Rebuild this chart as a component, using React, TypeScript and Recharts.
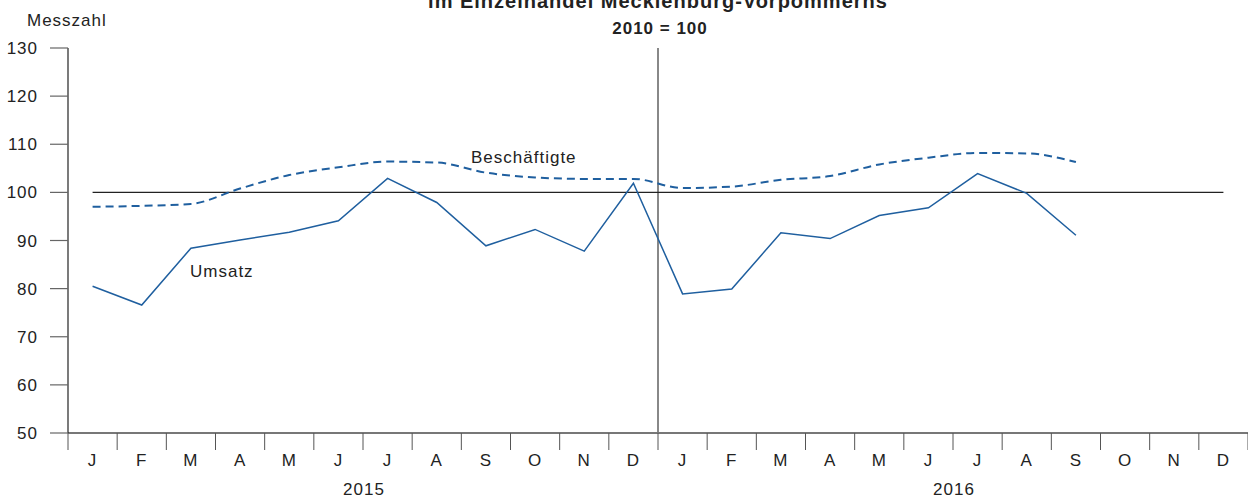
import { LineChart, Line, XAxis, YAxis, ReferenceLine } from 'recharts'

const monate = ['J', 'F', 'M', 'A', 'M', 'J', 'J', 'A', 'S', 'O', 'N', 'D', 'J', 'F', 'M', 'A', 'M', 'J', 'J', 'A', 'S', 'O', 'N', 'D']
const jahre = [2015, 2015, 2015, 2015, 2015, 2015, 2015, 2015, 2015, 2015, 2015, 2015, 2016, 2016, 2016, 2016, 2016, 2016, 2016, 2016, 2016, 2016, 2016, 2016]
const umsatz = [80.5, 76.6, 88.4, 90.1, 91.7, 94.1, 102.9, 97.9, 88.9, 92.3, 87.8, 101.9, 78.9, 79.9, 91.6, 90.4, 95.2, 96.8, 103.9, 99.8, 91.1, null, null, null]
const beschaeftigte = [97.0, 97.2, 97.6, 100.8, 103.6, 105.2, 106.4, 106.2, 104.1, 103.1, 102.8, 102.8, 100.9, 101.2, 102.6, 103.4, 105.8, 107.2, 108.2, 108.1, 106.3, null, null, null]
const basis = monate.map(() => 100)
const yTicks = [50, 60, 70, 80, 90, 100, 110, 120, 130]

const W = 1248
const H = 498
const Y_W = 68
const BAND = (W - Y_W) / monate.length
const BLAU = '#1f5f9f'
const FONT = '"Liberation Sans", Arial, sans-serif'

const data = monate.map((m, i) => ({
  key: `${jahre[i]}-${i}`,
  umsatz: umsatz[i],
  beschaeftigte: beschaeftigte[i],
  basis: basis[i],
}))

function MonatTick(props: any) {
  const { x, y, index } = props
  const i = index ?? props.payload?.index ?? 0
  return (
    <g>
      <line x1={x - BAND / 2} x2={x - BAND / 2} y1={y} y2={y + 17} stroke="#555" strokeWidth={1} />
      {i === monate.length - 1 && (
        <line x1={x + BAND / 2} x2={x + BAND / 2} y1={y} y2={y + 17} stroke="#555" strokeWidth={1} />
      )}
      <text x={x} y={y + 33} textAnchor="middle" fontSize={17} fill="#222" fontFamily={FONT} letterSpacing={1}>
        {monate[i]}
      </text>
      {i % 12 === 6 && (
        <text x={x - BAND / 2 + 1} y={y + 62} textAnchor="middle" fontSize={17} fill="#222" fontFamily={FONT} letterSpacing={1}>
          {jahre[i]}
        </text>
      )}
    </g>
  )
}

export default function App() {
  return (
    <div style={{ position: 'fixed', left: 0, top: 0, width: W, height: H, background: '#fff', fontFamily: FONT }}>
      <LineChart width={W} height={H} data={data} margin={{ top: 48, right: 0, bottom: 0, left: 0 }}>
        <XAxis
          dataKey="key"
          scale="band"
          interval={0}
          height={65}
          tickSize={0}
          tickMargin={0}
          tickLine={false}
          axisLine={{ stroke: '#777', strokeWidth: 2 }}
          tick={<MonatTick />}
        />
        <YAxis
          domain={[50, 130]}
          ticks={yTicks}
          width={Y_W}
          tickSize={18}
          tickMargin={12}
          axisLine={{ stroke: '#222', strokeWidth: 1.2 }}
          tickLine={{ stroke: '#666', strokeWidth: 1.2 }}
          tick={{ fill: '#222', fontSize: 17, fontFamily: FONT, letterSpacing: 1 }}
        />
        <ReferenceLine x={data[12].key} position="start" stroke="#888" strokeWidth={2} />
        <Line dataKey="basis" stroke="#222" strokeWidth={1.2} dot={false} activeDot={false} isAnimationActive={false} />
        <Line
          dataKey="beschaeftigte"
          type="monotone"
          stroke={BLAU}
          strokeWidth={2}
          strokeDasharray="8 5"
          dot={false}
          activeDot={false}
          isAnimationActive={false}
        />
        <Line dataKey="umsatz" stroke={BLAU} strokeWidth={1.5} dot={false} activeDot={false} isAnimationActive={false} />
      </LineChart>
      <svg width={W} height={H} style={{ position: 'absolute', left: 0, top: 0, pointerEvents: 'none' }}>
        <text x={658} y={8} textAnchor="middle" fontSize={20} fontWeight="bold" fill="#222" fontFamily={FONT} letterSpacing={1}>
          im Einzelhandel Mecklenburg-Vorpommerns
        </text>
        <text x={660} y={34} textAnchor="middle" fontSize={17} fontWeight="bold" fill="#222" fontFamily={FONT} letterSpacing={1}>
          2010 = 100
        </text>
        <text x={27} y={26} fontSize={17} fill="#222" fontFamily={FONT} letterSpacing={1}>Messzahl</text>
        <text x={471} y={163} fontSize={17} fill="#222" fontFamily={FONT} letterSpacing={1}>Beschäftigte</text>
        <text x={190} y={277} fontSize={17} fill="#222" fontFamily={FONT} letterSpacing={1}>Umsatz</text>
      </svg>
    </div>
  )
}
